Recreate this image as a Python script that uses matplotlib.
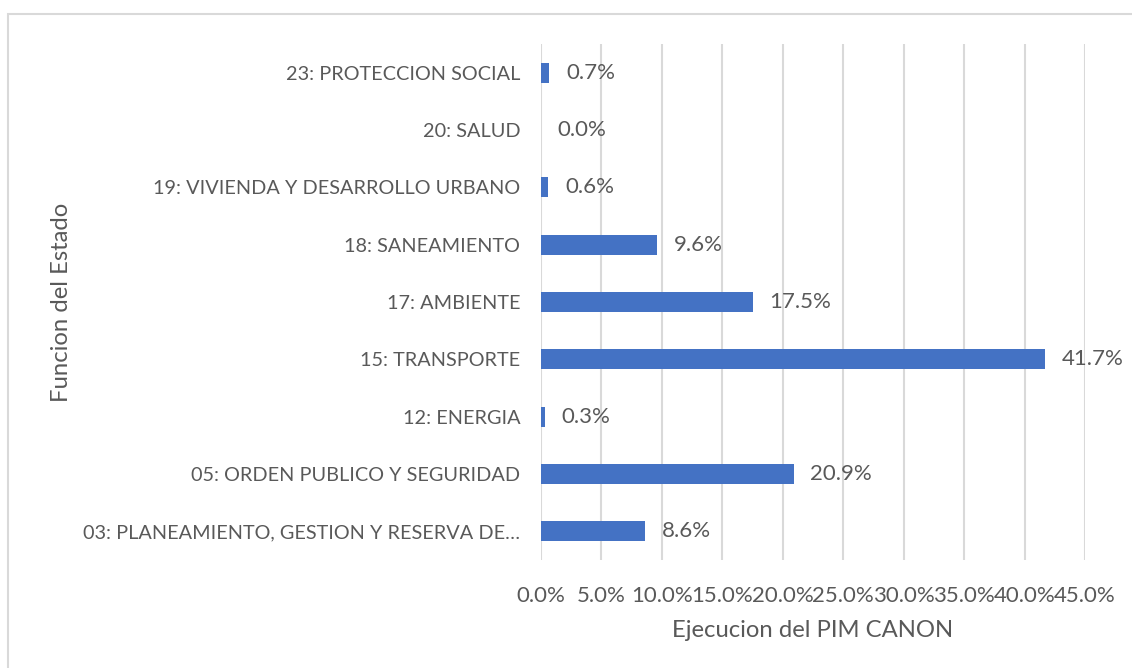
import matplotlib.pyplot as plt
from matplotlib.patches import Rectangle
from matplotlib.ticker import FuncFormatter, MultipleLocator

# Ejecucion del PIM CANON por funcion del Estado (%)
funciones = [
    "03: PLANEAMIENTO, GESTION Y RESERVA DE…",
    "05: ORDEN PUBLICO Y SEGURIDAD",
    "12: ENERGIA",
    "15: TRANSPORTE",
    "17: AMBIENTE",
    "18: SANEAMIENTO",
    "19: VIVIENDA Y DESARROLLO URBANO",
    "20: SALUD",
    "23: PROTECCION SOCIAL",
]
ejecucion = [8.6, 20.9, 0.3, 41.7, 17.5, 9.6, 0.6, 0.0, 0.7]

TEXT = "#595959"
BAR = "#4472C4"
GRID = "#D9D9D9"

plt.rcParams['font.family'] = ['Lato', 'DejaVu Sans']

fig = plt.figure(figsize=(11.32, 6.68), dpi=100)
ax = fig.add_axes([541 / 1132, 1 - 560 / 668, 544 / 1132, 516 / 668])

# chart frame
fig.patches.append(Rectangle((8 / 1132, -0.1), 1.2, 1 - 14 / 668 + 0.1,
                             transform=fig.transFigure, fill=False,
                             edgecolor=GRID, linewidth=1.5))

y = range(len(funciones))
ax.barh(y, ejecucion, height=0.35, color=BAR, zorder=3)
for yi, v in zip(y, ejecucion):
    ax.annotate(f"{v:.1f}%", (v, yi), xytext=(12, 0), textcoords='offset points',
                va='center', ha='left', fontsize=16, color=TEXT)

ax.set_xlim(0, 45)
ax.set_ylim(-0.5, len(funciones) - 0.5)
ax.xaxis.set_major_locator(MultipleLocator(5))
ax.xaxis.set_major_formatter(FuncFormatter(lambda v, _: f"{v:.1f}%"))
ax.grid(axis='x', color=GRID, linewidth=1.5, zorder=0)
ax.set_yticks(list(y))
ax.set_yticklabels(funciones)

for s in ax.spines.values():
    s.set_visible(False)
ax.tick_params(axis='both', length=0, colors=TEXT)
ax.tick_params(axis='x', pad=19, labelsize=16)
ax.tick_params(axis='y', pad=15, labelsize=14.3)

ax.set_xlabel("Ejecucion del PIM CANON", fontsize=17.2, color=TEXT, labelpad=10)
fig.text(62 / 1132, 1 - 302 / 668, "Funcion del Estado", rotation=90,
         ha='center', va='center', fontsize=17.2, color=TEXT)

fig.savefig("out.png", dpi=100, facecolor='white')
